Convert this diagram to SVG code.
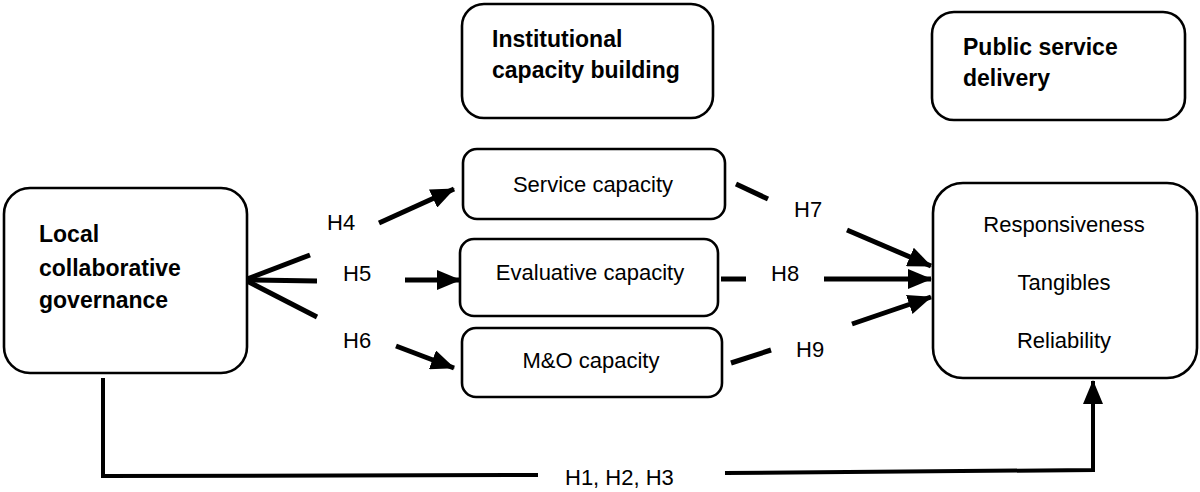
<svg xmlns="http://www.w3.org/2000/svg" width="1200" height="492" viewBox="0 0 1200 492">
<style>
.box{fill:#fff;stroke:#000;stroke-width:2.6}
.t{font-family:"Liberation Sans",Arial,sans-serif;font-size:22px;fill:#000}
.b{font-weight:bold;font-size:23px}
.m{text-anchor:middle}
.c{fill:none;stroke:#000;stroke-width:5}
.c2{fill:none;stroke:#000;stroke-width:4}
</style>
<defs>
<marker id="ah" markerUnits="userSpaceOnUse" markerWidth="24" markerHeight="20" viewBox="0 0 24 20" refX="23" refY="10" orient="auto">
<path d="M0,0 L24,10 L0,20 Z" fill="#000"/>
</marker>
</defs>
<rect width="1200" height="492" fill="#fff"/>
<g id="n-local">
<rect class="box" x="4" y="188" width="243" height="185" rx="26"/>
<text class="t b" x="39" y="242">Local</text>
<text class="t b" x="39" y="276">collaborative</text>
<text class="t b" x="39" y="308">governance</text>
</g>
<g id="n-institutional">
<rect class="box" x="462" y="4" width="251" height="114" rx="22"/>
<text class="t b" x="492" y="47">Institutional</text>
<text class="t b" x="492" y="78">capacity building</text>
</g>
<g id="n-public">
<rect class="box" x="932" y="12" width="253" height="108" rx="22"/>
<text class="t b" x="963" y="55">Public service</text>
<text class="t b" x="963" y="86">delivery</text>
</g>
<g id="n-service">
<rect class="box" x="463" y="149" width="262" height="70" rx="14"/>
<text class="t m" x="593" y="192">Service capacity</text>
</g>
<g id="n-evaluative">
<rect class="box" x="460" y="239" width="258" height="77" rx="14"/>
<text class="t m" x="590" y="280">Evaluative capacity</text>
</g>
<g id="n-mo">
<rect class="box" x="462" y="328" width="260" height="69" rx="14"/>
<text class="t m" x="591" y="368">M&amp;O capacity</text>
</g>
<g id="n-outcomes">
<rect class="box" x="933" y="183" width="264" height="195" rx="30"/>
<text class="t m" x="1064" y="232">Responsiveness</text>
<text class="t m" x="1064" y="290">Tangibles</text>
<text class="t m" x="1064" y="348">Reliability</text>
</g>
<g id="connectors">
<line class="c" x1="247" y1="279" x2="310" y2="255"/>
<line class="c" x1="247" y1="280" x2="317" y2="281"/>
<line class="c" x1="247" y1="281" x2="317" y2="317"/>
<line class="c" x1="379" y1="223" x2="454" y2="189" marker-end="url(#ah)"/>
<line class="c" x1="405" y1="280" x2="460" y2="280" marker-end="url(#ah)"/>
<line class="c" x1="396" y1="346" x2="454" y2="368" marker-end="url(#ah)"/>
<line class="c" x1="736" y1="184" x2="768" y2="199"/>
<line class="c" x1="721" y1="279" x2="746" y2="279"/>
<line class="c" x1="731" y1="363" x2="771" y2="350"/>
<line class="c" x1="847" y1="230" x2="931" y2="266" marker-end="url(#ah)"/>
<line class="c" x1="824" y1="279" x2="931" y2="279" marker-end="url(#ah)"/>
<line class="c" x1="852" y1="324" x2="931" y2="297" marker-end="url(#ah)"/>
<polyline class="c2" points="103,378 103,476 538,475"/>
<polyline class="c2" points="725,473 1093,470 1093,381" marker-end="url(#ah)"/>
<text class="t" x="327" y="230">H4</text>
<text class="t" x="343" y="281">H5</text>
<text class="t" x="343" y="348">H6</text>
<text class="t" x="794" y="217">H7</text>
<text class="t" x="771" y="281">H8</text>
<text class="t" x="796" y="357">H9</text>
<text class="t" x="565" y="485">H1, H2, H3</text>
</g>
</svg>
